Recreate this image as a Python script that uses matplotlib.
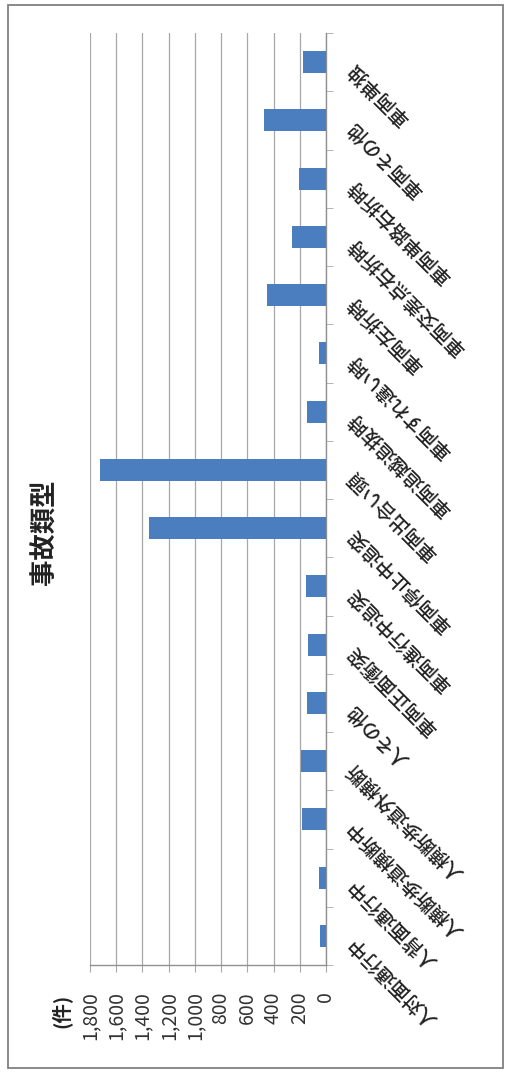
import numpy as np
import matplotlib
matplotlib.use("Agg")
import matplotlib.pyplot as plt
from matplotlib.transforms import ScaledTranslation
from matplotlib.patches import Rectangle

plt.rcParams['font.family'] = ['Noto Sans CJK JP', 'DejaVu Sans']

# Data (bottom -> top in the rotated picture = left -> right in original)
categories = [
    "人対面通行中", "人背面通行中", "人横断歩道横断中", "人横断歩道外横断",
    "人その他", "車両正面衝突", "車両進行中追突", "車両停止中追突",
    "車両出合い頭", "車両追越追抜時", "車両すれ違い時", "車両左折時",
    "車両交差点右折時", "車両単路右折時", "車両その他", "車両単独",
]
values = [45, 55, 180, 190, 145, 138, 150, 1350, 1720, 145, 55, 450, 260, 205, 475, 175]
value_ticks = [0, 200, 400, 600, 800, 1000, 1200, 1400, 1600, 1800]
title = "事故類型"
unit_label = "(件)"

W, H = 510, 1073
fig = plt.figure(figsize=(W / 100, H / 100), dpi=100)
fig.patch.set_facecolor('white')

ax_left, ax_right, ax_top, ax_bottom = 90, 326, 33, 965
ax = fig.add_axes([ax_left / W, 1 - ax_bottom / H,
                   (ax_right - ax_left) / W, (ax_bottom - ax_top) / H])

y = np.arange(len(categories))
ax.barh(y, values, height=0.38, color='#4a7ebf', zorder=3)

ax.set_xlim(max(value_ticks), 0)
ax.set_ylim(-0.5, len(categories) - 0.5)

grid_c = '#a8a8a8'
ax.set_xticks(value_ticks)
ax.set_xticklabels([f"{v:,}" for v in value_ticks], rotation=90,
                   ha='center', va='top', fontsize=14, color='#333333')
ax.tick_params(axis='x', length=5, color=grid_c, pad=14, direction='out')
ax.xaxis.grid(True, color=grid_c, linewidth=0.9, zorder=0)
ax.set_axisbelow(True)

for s in ['top', 'left']:
    ax.spines[s].set_visible(False)
for s in ['right', 'bottom']:
    ax.spines[s].set_color('#909090')
    ax.spines[s].set_linewidth(1.0)

ax.yaxis.tick_right()
ax.set_yticks(y)
ax.set_yticklabels(categories, fontsize=14, rotation=135, fontweight='medium',
                   color='#222222', rotation_mode='anchor', ha='right', va='center')
ax.tick_params(axis='y', which='major', length=0, pad=18)
ax.set_yticks(np.arange(-0.5, len(categories), 1.0), minor=True)
ax.tick_params(axis='y', which='minor', length=5, color=grid_c, direction='out')
off = ScaledTranslation(0, -0.04, fig.dpi_scale_trans)
for lab in ax.get_yticklabels():
    lab.set_transform(lab.get_transform() + off)

fig.text(45 / W, 1 - 532 / H, title, rotation=90, fontsize=19,
         fontweight='bold', ha='center', va='center', color='#222222')
fig.text(61 / W, 1 - 1011 / H, unit_label, rotation=90, fontsize=14,
         fontweight='bold', ha='center', va='center', color='#222222')

fig.patches.append(Rectangle((8 / W, 1 - 1068 / H), 495 / W, 1063 / H,
                             transform=fig.transFigure, fill=False,
                             edgecolor='#808080', linewidth=1.3))

fig.savefig("out.png", dpi=100)
